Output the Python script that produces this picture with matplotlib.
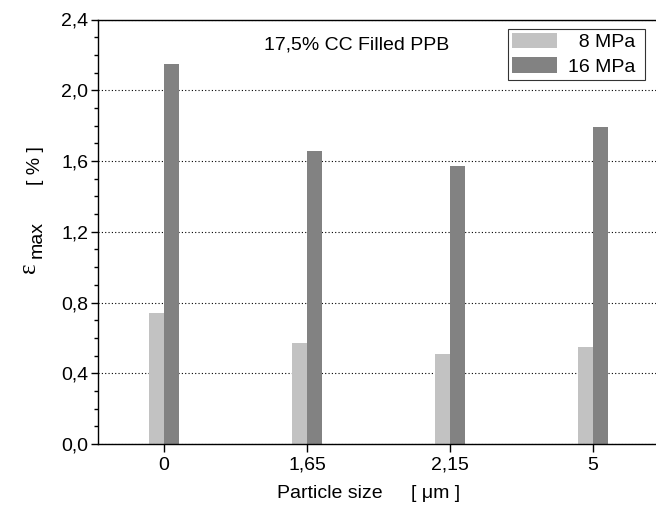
import numpy as np
import matplotlib
matplotlib.use('Agg')
import matplotlib.pyplot as plt
from matplotlib.ticker import MultipleLocator, FuncFormatter
from matplotlib.patches import Patch

plt.rcParams['font.family'] = ['Liberation Sans', 'DejaVu Sans']

# particle size categories and max strain values [%]
sizes = ['0', '1,65', '2,15', '5']
eps_8mpa = [0.74, 0.57, 0.51, 0.55]
eps_16mpa = [2.15, 1.655, 1.57, 1.79]

W, H = 656, 507
fig = plt.figure(figsize=(W / 100, H / 100), dpi=100)
ax = fig.add_axes([98 / W, 1 - 444 / H, (659 - 98) / W, (444 - 19.5) / H])

pos = np.arange(len(sizes))
bw = 0.105
ax.bar(pos - bw / 2, eps_8mpa, bw, color='#c2c2c2', zorder=2)
ax.bar(pos + bw / 2, eps_16mpa, bw, color='#828282', zorder=2)

ax.set_xlim(-0.46, 3.46)
ax.set_ylim(0, 2.4)
ax.set_xticks(pos)
ax.set_xticklabels(sizes)
ax.yaxis.set_major_locator(MultipleLocator(0.4))
ax.yaxis.set_minor_locator(MultipleLocator(0.1))
ax.yaxis.set_major_formatter(FuncFormatter(lambda v, _: f'{v:.1f}'.replace('.', ',')))
ax.tick_params(axis='both', labelsize=14, direction='out', width=1.0)
ax.tick_params(axis='x', length=6, pad=3)
ax.tick_params(axis='y', which='major', length=5, pad=2)
ax.tick_params(axis='y', which='minor', length=3, width=1.0)

ax.grid(axis='y', which='major', linestyle=(0, (1, 2)), color='black', linewidth=0.8, zorder=1)
for s in ['left', 'bottom', 'top', 'right']:
    ax.spines[s].set_linewidth(1.0)

ax.text(0.5 * (262 + 452) / W, 1 - 45 / H, '17,5% CC Filled PPB', transform=fig.transFigure,
        ha='center', va='center', fontsize=14)

handles = [Patch(facecolor='#c2c2c2', edgecolor='none'),
           Patch(facecolor='#828282', edgecolor='none')]
leg = ax.legend(handles, ['  8 MPa ', '16 MPa '], loc='upper right',
                bbox_to_anchor=(645 / W, 1 - 29 / H), bbox_transform=fig.transFigure,
                fontsize=14, frameon=True, fancybox=False, shadow=False,
                handlelength=2.3, handleheight=0.85, handletextpad=0.6,
                borderpad=0.2, labelspacing=0.3, borderaxespad=0)
leg.get_frame().set_edgecolor('black')
leg.get_frame().set_linewidth(0.8)

# axis labels
fig.text(29 / W, 1 - 268 / H, '\u03b5', rotation=90, ha='center', va='center',
         fontsize=18, family='Liberation Serif')
fig.text(37 / W, 1 - 240 / H, 'max', rotation=90, ha='center', va='center', fontsize=14)
fig.text(36 / W, 1 - 166 / H, '[ % ]', rotation=90, ha='center', va='center', fontsize=14)
fig.text(330 / W, 1 - 493 / H, 'Particle size', ha='center', va='center', fontsize=14)
fig.text(436 / W, 1 - 494 / H, '[ \u03bcm ]', ha='center', va='center', fontsize=14)

fig.savefig('out.png', dpi=100)
